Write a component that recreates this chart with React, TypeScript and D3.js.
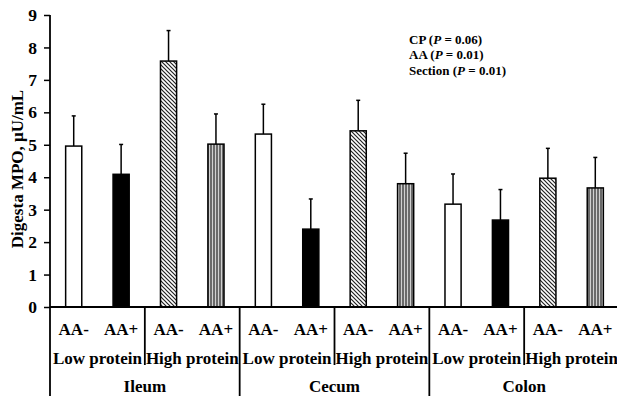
import { useEffect, useRef } from "react";
import * as d3 from "d3";

const sections = ["Ileum", "Cecum", "Colon"];
const proteins = ["Low protein", "High protein"];
const aaLevels = ["AA-", "AA+"];
const means = [4.96, 4.09, 7.58, 5.02, 5.33, 2.4, 5.43, 3.8, 3.17, 2.68, 3.97, 3.67];
const errors = [0.93, 0.92, 0.94, 0.93, 0.92, 0.93, 0.94, 0.94, 0.93, 0.94, 0.92, 0.94];
const yTicks = [0, 1, 2, 3, 4, 5, 6, 7, 8, 9];
const stats = [
  { label: "CP", p: "0.06" },
  { label: "AA", p: "0.01" },
  { label: "Section", p: "0.01" },
];

const font = "'Liberation Serif', 'Times New Roman', serif";

export default function App() {
  const chartRef = useRef<SVGSVGElement | null>(null);

  useEffect(() => {
    if (!chartRef.current) return;
    const svg = d3.select(chartRef.current);
    svg.selectAll("*").remove();

    const width = 617;
    const height = 396;
    const left = 50;
    const baseY = 307;

    // one row per bar: section / protein / aa level
    const rows = means.map((m, i) => ({
      i,
      mean: m,
      err: errors[i],
      section: sections[Math.floor(i / 4)],
      protein: proteins[Math.floor(i / 2) % 2],
      aa: aaLevels[i % 2],
    }));

    const x = d3
      .scaleBand<number>()
      .domain(rows.map((d) => d.i))
      .range([left, 619])
      .paddingInner(0.66)
      .paddingOuter(0.33);
    const step = x.step();
    const cx = (i: number) => (x(i) ?? 0) + x.bandwidth() / 2;

    const y = d3.scaleLinear().domain([0, 9]).range([baseY, 15]);

    // patterns
    const defs = svg.append("defs");
    const diag = defs
      .append("pattern")
      .attr("id", "diag")
      .attr("patternUnits", "userSpaceOnUse")
      .attr("width", 4)
      .attr("height", 4);
    diag.append("rect").attr("width", 4).attr("height", 4).attr("fill", "#fff");
    diag
      .append("path")
      .attr("d", "M-1,-1L5,5M-1,3L1,5M3,-1L5,1")
      .attr("stroke", "#222")
      .attr("stroke-width", 1.2);
    const vert = defs
      .append("pattern")
      .attr("id", "vert")
      .attr("patternUnits", "userSpaceOnUse")
      .attr("width", 3)
      .attr("height", 3);
    vert.append("rect").attr("width", 3).attr("height", 3).attr("fill", "#d0d0d0");
    vert
      .append("line")
      .attr("x1", 1)
      .attr("x2", 1)
      .attr("y1", 0)
      .attr("y2", 3)
      .attr("stroke", "#333")
      .attr("stroke-width", 1.3);

    const fills = ["#fff", "#000", "url(#diag)", "url(#vert)"];

    // error bars (upper only)
    const eb = svg.append("g").attr("stroke", "#000").attr("stroke-width", 1.5);
    eb.selectAll("line.v")
      .data(rows)
      .join("line")
      .attr("class", "v")
      .attr("x1", (d) => cx(d.i))
      .attr("x2", (d) => cx(d.i))
      .attr("y1", (d) => y(d.mean))
      .attr("y2", (d) => y(d.mean + d.err));
    eb.selectAll("line.c")
      .data(rows)
      .join("line")
      .attr("class", "c")
      .attr("x1", (d) => cx(d.i) - 2)
      .attr("x2", (d) => cx(d.i) + 2)
      .attr("y1", (d) => y(d.mean + d.err))
      .attr("y2", (d) => y(d.mean + d.err));

    // bars
    svg
      .append("g")
      .selectAll("rect")
      .data(rows)
      .join("rect")
      .attr("x", (d) => x(d.i) ?? 0)
      .attr("y", (d) => y(d.mean))
      .attr("width", x.bandwidth())
      .attr("height", (d) => y(0) - y(d.mean))
      .attr("fill", (d) => fills[d.i % 4])
      .attr("stroke", "#000")
      .attr("stroke-width", 1.5);

    // y axis
    const yAxis = svg
      .append("g")
      .attr("transform", `translate(${left},0)`)
      .call(d3.axisLeft(y).tickValues(yTicks).tickFormat(d3.format("d")).tickSize(6).tickPadding(7));
    yAxis.select(".domain").remove();
    yAxis.selectAll("line").attr("stroke-width", 1.5);
    yAxis
      .selectAll("text")
      .attr("font-family", font)
      .attr("font-size", 17.5)
      .attr("font-weight", "bold")
      .attr("fill", "#000");

    const lines = svg.append("g").attr("stroke", "#000").attr("stroke-width", 1.8);
    lines.append("line").attr("x1", left).attr("x2", left).attr("y1", y(9)).attr("y2", height);
    lines.append("line").attr("x1", left).attr("x2", width).attr("y1", baseY).attr("y2", baseY);

    // group separators
    d3.range(1, 6).forEach((k) => {
      const sx = left + k * 2 * step;
      const isSection = k % 2 === 0;
      lines
        .append("line")
        .attr("x1", sx)
        .attr("x2", sx)
        .attr("y1", baseY)
        .attr("y2", isSection ? height : 365);
    });

    const labels = svg
      .append("g")
      .attr("font-family", font)
      .attr("font-weight", "bold")
      .attr("font-size", 17)
      .attr("text-anchor", "middle")
      .attr("fill", "#000");
    labels
      .selectAll("text.aa")
      .data(rows)
      .join("text")
      .attr("class", "aa")
      .attr("x", (d) => cx(d.i))
      .attr("y", 334.5)
      .text((d) => d.aa);
    const pairs = d3.range(6);
    labels
      .selectAll("text.pr")
      .data(pairs)
      .join("text")
      .attr("class", "pr")
      .attr("x", (k) => left + (k * 2 + 1) * step)
      .attr("y", 363.5)
      .text((k) => proteins[k % 2]);
    labels
      .selectAll("text.sec")
      .data(sections)
      .join("text")
      .attr("class", "sec")
      .attr("x", (_, k) => left + (k * 4 + 2) * step)
      .attr("y", 391.5)
      .text((d) => d);

    // y title
    svg
      .append("text")
      .attr("transform", `translate(23,${(y(0) + y(9)) / 2 + 8}) rotate(-90)`)
      .attr("text-anchor", "middle")
      .attr("font-family", font)
      .attr("font-weight", "bold")
      .attr("font-size", 17)
      .text("Digesta MPO, μU/mL");

    // stats annotation
    const ann = svg
      .append("g")
      .attr("font-family", font)
      .attr("font-weight", "bold")
      .attr("font-size", 13);
    stats.forEach((s, k) => {
      const t = ann.append("text").attr("x", 409).attr("y", 43.5 + k * 15.5);
      t.append("tspan").text(`${s.label} (`);
      t.append("tspan").attr("font-style", "italic").text("P");
      t.append("tspan").text(` = ${s.p})`);
    });
  }, []);

  return (
    <svg
      ref={chartRef}
      width="617"
      height="396"
      style={{ position: "absolute", left: 0, top: 0, background: "#fff" }}
    />
  );
}
